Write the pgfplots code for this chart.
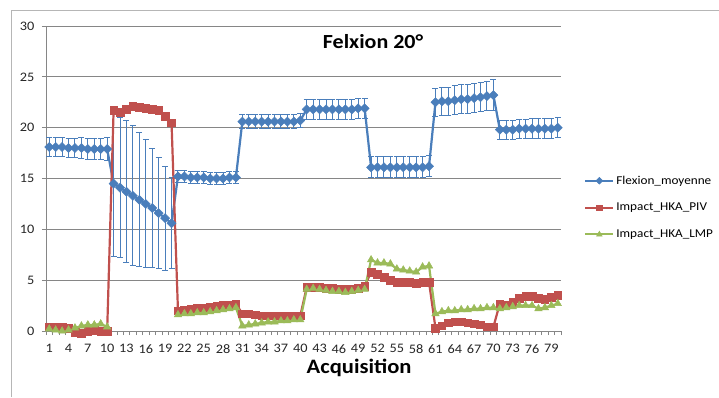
\documentclass[border=0pt]{standalone}
\usepackage{fontspec}
\setmainfont[FakeStretch=1.1]{Carlito}
\usepackage{pgfplots}
\usepackage{pgfplotstable}
\pgfplotsset{compat=1.18}

\definecolor{xlblue}{RGB}{74,126,187}
\definecolor{xlred}{RGB}{192,80,77}
\definecolor{xlgreen}{RGB}{155,187,89}
\definecolor{xlgrid}{RGB}{134,134,134}

% x flex err piv lmp
\pgfplotstableread{
x  flex  err   piv   lmp
1  18.1  0.95  0.4   0.2
2  18.1  0.95  0.4   0.1
3  18.1  0.95  0.4   0.0
4  18.0  0.95  0.3   0.1
5  18.0  0.95  -0.1  0.3
6  18.0  1.0   -0.2  0.5
7  17.9  1.0   0.0   0.6
8  17.9  1.0   0.1   0.6
9  17.9  1.05  0.0   0.7
10 17.9  1.1   0.0   0.4
11 14.5  7.2   21.7  nan
12 14.1  6.9   21.5  nan
13 13.7  7.0   21.8  nan
14 13.3  6.9   22.1  nan
15 12.9  6.6   22.0  nan
16 12.5  6.3   21.9  nan
17 12.1  5.9   21.8  nan
18 11.6  5.5   21.7  nan
19 11.1  5.1   21.1  nan
20 10.6  4.5   20.5  nan
21 15.2  0.6   2.0   1.6
22 15.2  0.6   2.1   1.7
23 15.1  0.6   2.2   1.7
24 15.1  0.6   2.3   1.8
25 15.1  0.6   2.3   1.8
26 15.0  0.6   2.4   1.9
27 15.0  0.6   2.5   2.0
28 15.0  0.6   2.6   2.1
29 15.1  0.6   2.6   2.2
30 15.1  0.6   2.7   2.3
31 20.6  0.65  1.7   0.5
32 20.6  0.65  1.7   0.6
33 20.6  0.65  1.6   0.7
34 20.6  0.65  1.5   0.8
35 20.6  0.65  1.5   0.9
36 20.6  0.65  1.5   0.9
37 20.6  0.65  1.5   1.0
38 20.6  0.65  1.5   1.0
39 20.6  0.65  1.5   1.1
40 20.7  0.65  1.5   1.1
41 21.8  0.95  4.3   4.1
42 21.8  0.95  4.3   4.2
43 21.8  0.95  4.3   4.1
44 21.8  0.95  4.2   4.0
45 21.8  0.95  4.2   3.9
46 21.8  0.95  4.1   3.9
47 21.8  0.95  4.1   3.8
48 21.8  0.95  4.1   3.9
49 21.9  0.95  4.2   4.0
50 21.9  0.95  4.4   4.1
51 16.1  1.05  5.8   7.0
52 16.1  1.05  5.6   6.7
53 16.1  1.05  5.3   6.7
54 16.1  1.05  5.0   6.6
55 16.1  1.05  4.8   6.1
56 16.1  1.05  4.8   6.0
57 16.1  1.05  4.8   5.9
58 16.1  1.05  4.7   5.8
59 16.1  1.05  4.8   6.3
60 16.2  1.05  4.8   6.4
61 22.5  1.4   0.3   1.7
62 22.6  1.4   0.5   1.9
63 22.6  1.4   0.8   2.0
64 22.7  1.4   0.9   2.0
65 22.8  1.4   0.9   2.1
66 22.8  1.45  0.8   2.1
67 22.9  1.45  0.7   2.2
68 23.0  1.45  0.6   2.2
69 23.1  1.45  0.4   2.3
70 23.2  1.5   0.4   2.3
71 19.8  0.95  2.7   2.2
72 19.8  0.95  2.6   2.3
73 19.8  0.95  2.8   2.4
74 19.9  0.95  3.2   2.5
75 19.9  0.95  3.4   2.5
76 19.9  1.0   3.4   2.5
77 19.9  1.0   3.2   2.2
78 19.9  1.0   3.1   2.3
79 19.9  1.0   3.3   2.5
80 20.0  1.0   3.5   2.7
}\datatable

\begin{document}
\begin{tikzpicture}
\useasboundingbox (0pt,0pt) rectangle (719pt,397pt);
\draw[xlgrid!60, line width=0.8pt] (11pt,0pt) -- (11pt,387pt) -- (719pt,387pt);
\begin{axis}[
    at={(46pt,66pt)}, anchor=south west,
    scale only axis, width=515pt, height=305pt,
    xmin=0.5, xmax=80.5, ymin=0, ymax=30,
    clip=false,
    unbounded coords=jump,
    axis x line*=bottom, axis y line*=left,
    axis line style={xlgrid, line width=0.8pt},
    xtick={1,4,...,79},
    minor xtick={0.5,1.5,...,80.5},
    ytick={0,5,...,30},
    ymajorgrids,
    grid style={xlgrid, line width=0.8pt},
    tick align=outside,
    major tick length=4pt, minor tick length=4pt,
    major x tick style={draw=none},
    minor x tick style={xlgrid, line width=0.6pt},
    y tick style={xlgrid, line width=0.8pt},
    tick label style={font=\fontsize{13}{15}\selectfont, text=black!85},
    yticklabel style={xshift=-4pt},
    xticklabel style={yshift=-6pt},
    /pgf/number format/assume math mode=true,
    title={Felxion 20°},
    title style={at={(0.635,0.928)}, anchor=center, font=\bfseries\fontsize{20}{24}\selectfont},
    xlabel={Acquisition},
    xlabel style={at={(0.608,-0.121)}, anchor=center, font=\bfseries\fontsize{20.5}{25}\selectfont},
    legend style={at={(1.045,0.516)}, anchor=north west, draw=none, fill=none,
        font=\fontsize{12}{14}\selectfont, row sep=13.5pt, inner sep=0pt,
        cells={anchor=west}},
    legend image code/.code={\draw[mark repeat=2,mark phase=2,line width=2pt,every mark/.append style={scale=0.75}] plot coordinates {(0pt,0pt)(14pt,0pt)(28pt,0pt)};},
]
\addplot[xlblue, line width=2.2pt, mark=square*, mark size=3.2pt,
    mark options={rotate=45, solid, line width=0.5pt},
    error bars/.cd, y dir=both, y explicit,
    error bar style={line width=1pt, xlblue},
    error mark options={rotate=90, xlblue, mark size=3pt, line width=1pt}]
    table[x=x, y=flex, y error=err] {\datatable};
\addlegendentry{Flexion\_moyenne}
\addplot[xlred, line width=2.2pt, mark=square*, mark size=3.8pt,
    mark options={solid, line width=0.5pt}]
    table[x=x, y=piv] {\datatable};
\addlegendentry{Impact\_HKA\_PIV}
\addplot[xlgreen, line width=2.2pt, mark=triangle*, mark size=4.3pt,
    mark options={solid, line width=0.5pt}]
    table[x=x, y=lmp] {\datatable};
\addlegendentry{Impact\_HKA\_LMP}
\end{axis}
\end{tikzpicture}
\end{document}
